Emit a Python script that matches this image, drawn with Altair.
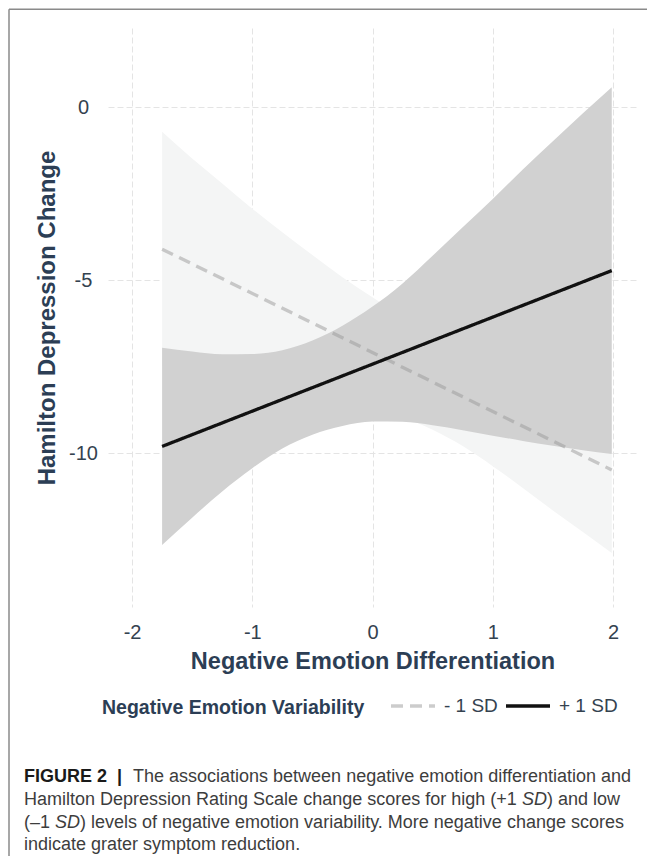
import altair as alt
import pandas as pd

# ---------------- data ----------------
band_x = [-1.75, -1.5, -1.25, -1.0, -0.75, -0.5, -0.25, 0.0, 0.25, 0.5,
          0.75, 1.0, 1.25, 1.5, 1.75, 1.99]
# +1 SD confidence band (dark grey)
high_upper = [-6.95, -7.06, -7.14, -7.13, -7.02, -6.74, -6.31, -5.76, -5.09,
              -4.29, -3.47, -2.65, -1.80, -0.98, -0.17, 0.58]
high_lower = [-12.65, -11.86, -11.10, -10.43, -9.86, -9.46, -9.21, -9.08,
              -9.09, -9.19, -9.33, -9.49, -9.64, -9.78, -9.91, -10.02]
# -1 SD confidence band (light grey)
low_upper = [-0.71, -1.48, -2.20, -2.93, -3.61, -4.27, -4.91, -5.49, -6.06,
             -6.56, -6.95, -7.21, -7.44, -7.65, -7.87, -8.08]
low_lower = [-7.49, -7.58, -7.70, -7.83, -8.01, -8.21, -8.41, -8.69, -8.96,
             -9.32, -9.79, -10.37, -11.00, -11.65, -12.27, -12.88]

line_x = [-1.75, 1.99]
low_line = [-4.10, -10.48]
high_line = [-9.80, -4.72]
groups = ["- 1 SD", "+ 1 SD"]

x_ticks = [-2, -1, 0, 1, 2]
y_ticks = [-10, -5, 0]

# ---------------- tables ----------------
low_band = pd.DataFrame({"x": band_x, "upper": low_upper, "lower": low_lower})
high_band = pd.DataFrame({"x": band_x, "upper": high_upper, "lower": high_lower})
lines = pd.DataFrame({
    "x": line_x + line_x,
    "y": low_line + high_line,
    "group": [groups[0]] * 2 + [groups[1]] * 2,
})

FONT = "Liberation Sans"
TITLE_COLOR = "#2c3e55"
LABEL_COLOR = "#34424f"

xscale = alt.Scale(domain=[-2.2, 2.2], nice=False, zero=False)
yscale = alt.Scale(domain=[-14.44, 2.29], nice=False, zero=False)

xaxis = alt.Axis(
    title="Negative Emotion Differentiation", values=x_ticks,
    labelExpr="'' + datum.value", grid=True, domain=False, ticks=False,
    tickSize=0, labelPadding=31, labelBaseline="alphabetic",
    labelFontSize=20, labelColor=LABEL_COLOR, labelFont=FONT,
    titleFontSize=23.5, titleFontWeight="bold", titleColor=TITLE_COLOR,
    titleFont=FONT, titleBaseline="alphabetic", titleY=61,
)
yaxis = alt.Axis(
    title="Hamilton Depression Change", values=y_ticks,
    labelExpr="'' + datum.value", grid=True, domain=False, ticks=False,
    tickSize=0, labelPadding=25, labelAlign="center",
    labelFontSize=20, labelColor=LABEL_COLOR, labelFont=FONT,
    titleFontSize=24, titleFontWeight="bold", titleColor=TITLE_COLOR,
    titleFont=FONT, titleBaseline="alphabetic", titleX=-54, titleY=289.5,
    titleAngle=270,
)

light = alt.Chart(low_band).mark_area(
    color="#f4f5f5", opacity=1, interpolate="monotone"
).encode(
    x=alt.X("x:Q", scale=xscale, axis=xaxis),
    y=alt.Y("upper:Q", scale=yscale, axis=yaxis),
    y2="lower:Q",
)
dark = alt.Chart(high_band).mark_area(
    color="#d1d1d1", opacity=1, interpolate="monotone"
).encode(
    x=alt.X("x:Q", scale=xscale, axis=xaxis),
    y=alt.Y("upper:Q", scale=yscale, axis=yaxis),
    y2="lower:Q",
)

legend = alt.Legend(
    title="Negative Emotion Variability", orient="none", legendX=-6,
    legendY=654, direction="horizontal", titleOrient="left",
    titleAnchor="middle", titleBaseline="top",
    titleFontSize=19.5, titleFontWeight="bold", titleColor=TITLE_COLOR,
    titleFont=FONT, titlePadding=24, titleLimit=500, labelFontSize=19,
    labelColor=LABEL_COLOR, labelFont=FONT, symbolType="stroke",
    symbolSize=1936, symbolStrokeWidth=3.3, labelOffset=7, columnPadding=1,
)

line_layer = alt.Chart(lines).mark_line(strokeWidth=3.3).encode(
    x=alt.X("x:Q", scale=xscale, axis=xaxis),
    y=alt.Y("y:Q", scale=yscale, axis=yaxis),
    color=alt.Color("group:N", sort=groups,
                    scale=alt.Scale(domain=groups,
                                    range=["rgba(153,153,153,0.5)", "#111111"]),
                    legend=legend),
    strokeDash=alt.StrokeDash("group:N", sort=groups,
                              scale=alt.Scale(domain=groups,
                                              range=[[12, 7], [1, 0]]),
                              legend=legend),
)

one = pd.DataFrame({"a": [0]})

def txt(s, x, y, weight="normal", style="normal", color="#3d3d3d", size=18):
    return alt.Chart(one).mark_text(
        align="left", baseline="alphabetic", font=FONT, fontSize=size,
        fontWeight=weight, fontStyle=style, color=color,
    ).encode(x=alt.value(x), y=alt.value(y), text=alt.value(s))

cap = [
    txt("FIGURE 2", -84, 754, weight="bold", color="#1a1a1a"),
    txt("|", 9, 754, weight="bold", color="#1a1a1a"),
    txt("The associations between negative emotion differentiation and", 25, 754),
    txt("Hamilton Depression Rating Scale change scores for high (+1 ", -84, 777),
    txt("SD", 414, 777, style="italic"),
    txt(") and low", 439, 777),
    txt("(\u20131 ", -84, 800),
    txt("SD", -53, 800, style="italic"),
    txt(") levels of negative emotion variability. More negative change scores", -28, 800),
    txt("indicate grater symptom reduction.", -84, 822),
]

border_top = alt.Chart(one).mark_rule(color="#8a8a8a", strokeWidth=1.5).encode(
    x=alt.value(-99), x2=alt.value(560), y=alt.value(-18.7))
border_left = alt.Chart(one).mark_rule(color="#8a8a8a", strokeWidth=1.5).encode(
    x=alt.value(-99), y=alt.value(-18.7), y2=alt.value(840))

chart = alt.layer(
    light, dark, line_layer, border_top, border_left, *cap
).properties(
    width=529, height=579,
    padding={"left": 100, "top": 20, "right": 10, "bottom": 249},
    autosize=alt.AutoSizeParams(type="none"),
    background="white",
).configure_view(
    strokeWidth=0
).configure_axis(
    gridColor="#e4e4e4", gridDash=[6, 3], gridWidth=1
)

chart.save("out.html", embed_options={"renderer": "svg", "actions": False})
